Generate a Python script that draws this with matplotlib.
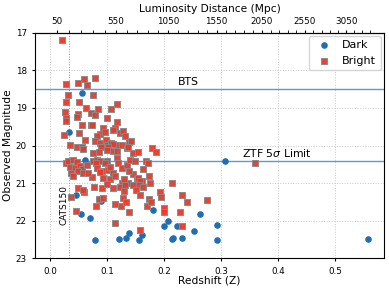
# Observed magnitude vs redshift, dark vs bright sirens
import matplotlib.pyplot as plt
import numpy as np
from matplotlib.ticker import FixedLocator

# Dados
dark_z = [0.055, 0.032, 0.061, 0.045, 0.054, 0.070, 0.088, 0.079, 0.121, 0.132,
          0.138, 0.155, 0.161, 0.180, 0.207, 0.200, 0.213, 0.215, 0.222, 0.231,
          0.251, 0.262, 0.292, 0.293, 0.306, 0.557]
dark_mag = [18.61, 19.63, 20.39, 21.32, 21.82, 21.93, 21.47, 22.50, 22.48, 22.46,
            22.32, 22.50, 22.38, 21.71, 22.00, 22.13, 22.48, 22.46, 22.13, 22.46,
            22.26, 21.82, 22.11, 22.50, 20.42, 22.48]

bright_z = [0.020,
            0.028, 0.049, 0.059, 0.065, 0.079, 0.030, 0.074, 0.028, 0.050, 0.117,
            0.106, 0.084, 0.062, 0.025, 0.049, 0.072, 0.079, 0.046, 0.099, 0.027,
            0.027, 0.116, 0.056, 0.072, 0.073, 0.093, 0.113, 0.051, 0.024, 0.087,
            0.081, 0.096, 0.110, 0.122, 0.127, 0.131, 0.061, 0.078, 0.087, 0.097,
            0.099, 0.107, 0.116, 0.125, 0.110, 0.138, 0.142, 0.034, 0.047, 0.055,
            0.058, 0.088, 0.101, 0.099, 0.110, 0.116, 0.086, 0.075, 0.134, 0.136,
            0.145, 0.153, 0.179, 0.185,
            0.028, 0.031, 0.040, 0.046, 0.035, 0.043, 0.052, 0.055, 0.037, 0.049,
            0.058, 0.040, 0.064, 0.075, 0.081, 0.087, 0.080, 0.099, 0.096, 0.081,
            0.090, 0.101, 0.110, 0.104, 0.116, 0.119, 0.125, 0.134, 0.139, 0.148,
            0.167, 0.171, 0.163, 0.145, 0.137, 0.152, 0.160, 0.173, 0.093, 0.104,
            0.125, 0.136, 0.073, 0.113, 0.129, 0.066, 0.087, 0.154, 0.157,
            0.049, 0.037, 0.059, 0.057, 0.045, 0.077, 0.086, 0.093, 0.080, 0.090,
            0.100, 0.109, 0.122, 0.131, 0.113, 0.123, 0.128, 0.132, 0.138, 0.129,
            0.113, 0.158, 0.144, 0.156, 0.163, 0.151, 0.157, 0.173, 0.169, 0.176,
            0.192, 0.194, 0.200, 0.200, 0.213, 0.228, 0.230, 0.239, 0.231, 0.274,
            0.175, 0.359]
bright_mag = [17.20,
              18.36, 18.33, 18.23, 18.39, 18.21, 18.67, 18.67, 18.84, 18.84, 18.89,
              19.04, 19.02, 19.00, 19.10, 19.15, 19.13, 19.18, 19.23, 19.28, 19.28,
              19.35, 19.37, 19.46, 19.46, 19.45, 19.54, 19.53, 19.66, 19.71, 19.70,
              19.75, 19.64, 19.60, 19.68, 19.61, 19.75, 19.86, 19.89, 19.93, 19.86,
              19.98, 19.94, 19.98, 19.98, 19.96, 19.92, 19.89, 19.99, 20.05, 20.05,
              20.08, 20.05, 20.03, 20.11, 20.15, 20.14, 20.16, 20.20, 20.07, 20.04,
              20.20, 20.16, 20.07, 20.18,
              20.47, 20.42, 20.38, 20.45, 20.56, 20.61, 20.55, 20.63, 20.73, 20.68,
              20.73, 20.82, 20.51, 20.42, 20.38, 20.40, 20.47, 20.42, 20.47, 20.60,
              20.68, 20.64, 20.73, 20.58, 20.33, 20.47, 20.60, 20.53, 20.38, 20.42,
              20.40, 20.47, 20.62, 20.77, 20.68, 20.90, 20.95, 20.82, 20.86, 20.90,
              20.99, 20.99, 20.84, 20.82, 20.90, 20.74, 20.70, 20.86, 20.93,
              21.14, 21.38, 21.23, 21.18, 21.74, 21.10, 21.43, 21.40, 21.61, 21.14,
              21.02, 21.12, 21.10, 21.06, 21.56, 21.62, 21.39, 21.49, 21.77, 21.21,
              22.05, 22.24, 21.04, 21.05, 21.10, 21.18, 21.32, 21.43, 21.60, 21.50,
              21.23, 21.37, 21.65, 21.78, 21.00, 21.78, 21.32, 21.49, 22.13, 21.45,
              21.00, 20.47]

bts_mag = 18.5
ztf_mag = 20.4
cats_dist = 150
dist_ticks = [50, 550, 1050, 1550, 2050, 2550, 3050]
dist_minor = [d for d in range(150, 3450, 100) if d not in dist_ticks]

# distancia de luminosidade (LCDM plano)
c_kms = 299792.458
H0, Om = 67.7, 0.31
zg = np.linspace(-0.2, 3, 6401)
inv_e = 1 / np.sqrt(Om * (1 + zg)**3 + 1 - Om)
cum = np.concatenate([[0], np.cumsum((inv_e[1:] + inv_e[:-1]) / 2 * np.diff(zg))])
cum = cum - np.interp(0, zg, cum)
dl = (1 + zg) * c_kms / H0 * cum


def z2d(z):
    return np.interp(z, zg, dl)


def d2z(d):
    return np.interp(d, dl, zg)


fig = plt.figure(figsize=(3.89, 2.91), dpi=100)
ax = fig.add_axes([0.090, 0.112, 0.897, 0.776])

ax.scatter(dark_z, dark_mag, s=14, marker='o', color='#1f6db3', label='Dark', zorder=3)
ax.scatter(bright_z, bright_mag, s=20, marker='s', color='#e8392b',
           edgecolors='#8a8a8a', linewidths=0.7, alpha=0.95, label='Bright', zorder=3)

ax.axhline(bts_mag, color='#5b9bd5', lw=1, zorder=2)
ax.axhline(ztf_mag, color='#5b9bd5', lw=1, zorder=2)
z_cats = d2z(cats_dist)
ax.axvline(z_cats, color='#5b9bd5', lw=0.7, ls=':', zorder=2)

ax.text(0.224, bts_mag - 0.05, 'BTS', fontsize=7.8, va='bottom')
ax.text(0.336, ztf_mag - 0.05, r'ZTF 5$\sigma$ Limit', fontsize=7.8, va='bottom')
ax.text(z_cats - 0.002, 22.1, 'CATS150', fontsize=6.5, rotation=90, ha='right', va='bottom')

ax.set_xlim(-0.027, 0.585)
ax.set_ylim(23, 17)
ax.set_xticks([0.0, 0.1, 0.2, 0.3, 0.4, 0.5])
ax.set_yticks([17, 18, 19, 20, 21, 22, 23])
ax.grid(True, ls=':', color='#c8c8c8', lw=0.7)
ax.tick_params(labelsize=6.3, length=2.5)
ax.set_xlabel('Redshift (Z)', fontsize=7.7, labelpad=0)
ax.set_ylabel('Observed Magnitude', fontsize=7.7, labelpad=2)

sec = ax.secondary_xaxis('top', functions=(z2d, d2z))
sec.xaxis.set_major_locator(FixedLocator(dist_ticks))
sec.xaxis.set_minor_locator(FixedLocator(dist_minor))
sec.tick_params(labelsize=6.3, length=2, pad=3)
sec.tick_params(which='minor', length=2)
sec.set_xlabel('Luminosity Distance (Mpc)', fontsize=7.7, labelpad=3)

ax.legend(loc='upper right', fontsize=8, borderaxespad=0.3, handletextpad=0.6)

fig.savefig('out.png', dpi=100)
print("saved out.png")
